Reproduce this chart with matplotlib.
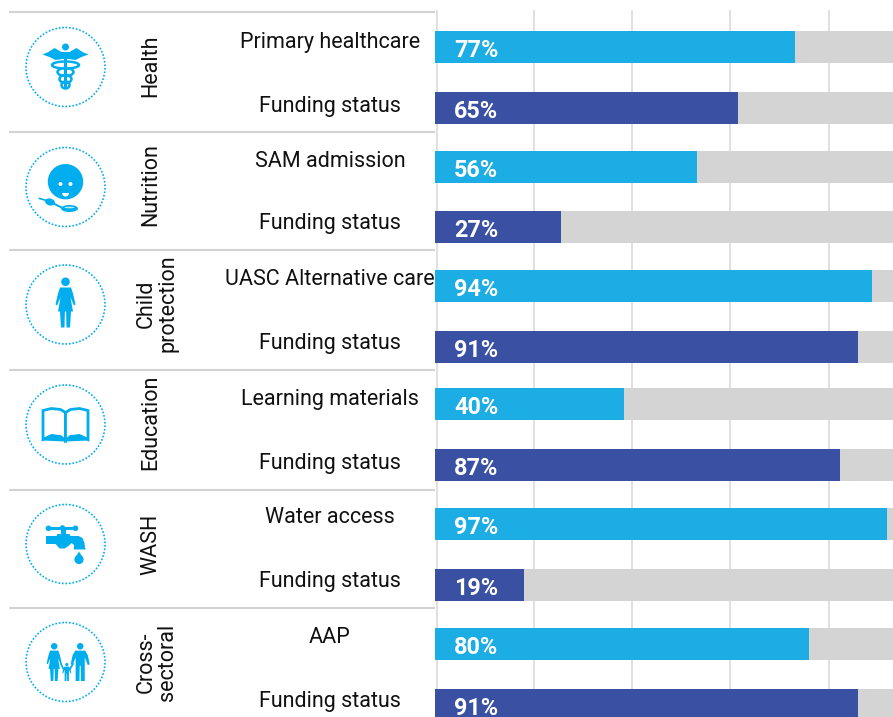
#!/usr/bin/env python3
import matplotlib
matplotlib.use("Agg")
import matplotlib.pyplot as plt
from matplotlib.patches import Circle, Ellipse, Polygon, Rectangle, Wedge

# ==============================================================
# Data
# ==============================================================
sectors = ["Health", "Nutrition", "Child\nprotection", "Education", "WASH", "Cross-\nsectoral"]
indicators = ["Primary healthcare", "SAM admission", "UASC Alternative care",
              "Learning materials", "Water access", "AAP"]
indicator_labels = [77, 56, 94, 40, 97, 80]
funding_labels = [65, 27, 91, 87, 19, 91]
# bar lengths as measured, the printed labels are rounded
indicator_values = [77.2, 56.2, 93.7, 40.5, 96.9, 80.2]
funding_values = [65.0, 27.0, 90.7, 86.8, 19.1, 90.7]
funding_label = "Funding status"

# ==============================================================
# Layout (pixels of the 893x717 picture)
# ==============================================================
W, H = 893, 717
PX_PER_PCT = 4.665
BAR_X0 = 435
BAR_H = 32
ind_bar_top = [31, 151, 270, 388, 508, 628]
fund_bar_top = [92, 211, 331, 449, 569, 689]
ind_text_y = [42.5, 161.5, 279.5, 399.5, 517.5, 637.5]
fund_text_y = [106.5, 223.5, 343.5, 463.5, 581.5, 701.5]
rule_y = [12, 132, 250, 370, 490, 608]
icon_y = [67, 187, 304.5, 424.5, 544, 662]
sector_y = [66, 185, 303.5, 422.5, 544.5, 662]
grid_x = [436.5, 534, 632, 730, 829]

CYAN = "#1CADE4"
ICON = "#00AEEF"
NAVY = "#3A50A2"
GRAY = "#D4D4D4"
GRID = "#DDDDDD"
RULE = "#D2D2D2"
TXT = "#111111"
FS = 15.5

plt.rcParams['font.family'] = ['Roboto', 'DejaVu Sans']

fig = plt.figure(figsize=(W / 100, H / 100), dpi=100)

# full figure overlay in pixel coordinates, y going down
bg = fig.add_axes([0, 0, 1, 1])
bg.set_xlim(0, W)
bg.set_ylim(H, 0)
bg.axis('off')


# ==============================================================
# Icons
# ==============================================================
def add_poly(ax, cx, cy, pts, color=ICON, z=5):
    ax.add_patch(Polygon([(cx + a, cy + b) for a, b in pts], closed=True, fc=color, ec='none', zorder=z))


def add_circ(ax, x, y, r, color=ICON, z=5):
    ax.add_patch(Circle((x, y), r, fc=color, ec='none', zorder=z))


def person(ax, cx, top, h, dress=False):
    s = h / 50.0
    add_circ(ax, cx, top + 4.3 * s, 4.3 * s)
    if dress:
        add_poly(ax, cx, top, [(-5.5*s, 10*s), (5.5*s, 10*s), (7.5*s, 16*s), (10*s, 27*s), (8.5*s, 28*s),
                               (5*s, 20*s), (7.5*s, 34*s), (5.5*s, 34*s), (4.5*s, 50*s), (1*s, 50*s),
                               (0.6*s, 34*s), (-0.6*s, 34*s), (-1*s, 50*s), (-4.5*s, 50*s), (-5.5*s, 34*s),
                               (-7.5*s, 34*s), (-5*s, 20*s), (-8.5*s, 28*s), (-10*s, 27*s), (-7.5*s, 16*s)])
    else:
        add_poly(ax, cx, top, [(-6.5*s, 10*s), (6.5*s, 10*s), (10*s, 16*s), (12.5*s, 28*s), (10*s, 29*s),
                               (6*s, 19*s), (6*s, 50*s), (1*s, 50*s), (0.6*s, 30*s), (-0.6*s, 30*s),
                               (-1*s, 50*s), (-6*s, 50*s), (-6*s, 19*s), (-10*s, 29*s),
                               (-12.5*s, 28*s), (-10*s, 16*s)])


def icon_health(ax, cx, cy):
    add_circ(ax, cx, cy - 20, 3.5)
    add_poly(ax, cx, cy, [(-23, -12.5), (-17, -15), (-11, -19), (-4, -15), (4, -15), (11, -19), (17, -15),
                          (23, -12.5), (16, -10), (10, -7), (3, -8), (-3, -8), (-10, -7), (-16, -10)])
    ax.add_patch(Rectangle((cx - 1.3, cy - 15), 2.6, 37, fc=ICON, ec='none', zorder=5))
    for yy, w, h in [(-2, 27, 7), (5, 16, 8), (12, 12, 8), (18, 8, 7)]:
        ax.add_patch(Ellipse((cx, cy + yy), w, h, fc='none', ec=ICON, lw=1.8, zorder=5))


def icon_nutrition(ax, cx, cy):
    add_circ(ax, cx, cy - 5.3, 17.7)
    add_circ(ax, cx - 5, cy - 3, 2, 'white', 6)
    add_circ(ax, cx + 5, cy - 3, 2, 'white', 6)
    ax.add_patch(Wedge((cx, cy + 6), 3.5, 0, 180, fc='white', ec='none', zorder=6))
    ax.add_patch(Ellipse((cx - 15.5, cy + 15), 10, 7, angle=15, fc=ICON, ec='none', zorder=5))
    ax.plot([cx - 26, cx - 19], [cy + 11.5, cy + 13.5], color=ICON, lw=1.2, zorder=5)
    ax.plot([cx - 11, cx - 3], [cy + 17, cy + 21], color=ICON, lw=1.4, zorder=5)
    ax.add_patch(Ellipse((cx + 4, cy + 21.5), 17, 7, fc=ICON, ec='none', zorder=5))
    ax.add_patch(Ellipse((cx + 4, cy + 20.5), 10, 1.6, fc='#BFEBFB', ec='none', zorder=6))


def icon_child(ax, cx, cy):
    person(ax, cx, cy - 27, 50, dress=True)


def icon_book(ax, cx, cy):
    for sgn in (-1, 1):
        pts = [(0, -12), (sgn * 5, -15), (sgn * 14, -16), (sgn * 22.5, -14), (sgn * 22.5, 15),
               (sgn * 14, 11), (sgn * 5, 12), (0, 16)]
        ax.add_patch(Polygon([(cx + a, cy + b) for a, b in pts], closed=True, fc='white', ec=ICON, lw=2, zorder=5))
    add_poly(ax, cx, cy, [(-23.3, 14), (-14, 10), (-5, 11), (0, 15), (5, 11), (14, 10), (23.3, 14), (23.3, 16),
                          (0, 17), (-23.3, 16)])


def icon_tap(ax, cx, cy):
    ax.add_patch(Rectangle((cx - 17, cy - 17), 27, 2.6, fc=ICON, ec='none', zorder=5))
    add_circ(ax, cx - 17, cy - 15.7, 2.8)
    add_circ(ax, cx + 10, cy - 15.7, 2.8)
    add_circ(ax, cx - 3, cy - 16, 2.8)
    ax.add_patch(Rectangle((cx - 5, cy - 15), 5, 6, fc=ICON, ec='none', zorder=5))
    add_poly(ax, cx, cy, [(-19.5, -8), (-9, -8), (-8, -10), (4, -10), (5, -8), (13, -8), (17, -6), (19, -1),
                          (19.5, 4), (20, 4), (20, 5.5), (8.5, 5.5), (8.5, 1), (6, -1), (3, 2), (-1, 4.5),
                          (-6, 4.5), (-9, 1), (-10, 0), (-19.5, 0)])
    add_poly(ax, cx, cy, [(13.5, 7.5), (17.5, 14), (9.5, 14)])
    add_circ(ax, cx + 13.5, cy + 15.5, 4.6)


def icon_family(ax, cx, cy):
    person(ax, cx - 11.3, cy - 19, 38, dress=True)
    person(ax, cx + 14.7, cy - 19, 38)
    person(ax, cx + 1.3, cy + 1, 18)
    ax.plot([cx - 4.5, cx - 2], [cy + 2, cy + 7], color=ICON, lw=1.2, zorder=5)
    ax.plot([cx + 4.5, cx + 7.5], [cy + 7, cy + 2], color=ICON, lw=1.2, zorder=5)


icon_funcs = [icon_health, icon_nutrition, icon_child, icon_book, icon_tap, icon_family]

# ==============================================================
# Left hand columns
# ==============================================================
for y in rule_y:
    bg.plot([9, 435], [y, y], color=RULE, lw=1.5, solid_capstyle='butt', zorder=1)

for i in range(6):
    bg.add_patch(Circle((65.5, icon_y[i]), 39.5, fc='none', ec=ICON, lw=1.2,
                        ls=(0, (1, 1.1)), zorder=4))
    icon_funcs[i](bg, 65.5, icon_y[i])
    bg.text(151 if "\n" not in sectors[i] else 157, sector_y[i], sectors[i], rotation=90,
            ha='center', va='center', fontsize=FS, color=TXT, linespacing=1.0, multialignment='center')
    bg.text(330, ind_text_y[i], indicators[i], ha='center', va='center', fontsize=FS, color=TXT)
    bg.text(330, fund_text_y[i], funding_label, ha='center', va='center', fontsize=FS, color=TXT)

# ==============================================================
# Bars
# ==============================================================
ax = fig.add_axes([BAR_X0 / W, 0, 1 - BAR_X0 / W, 1])
ax.patch.set_alpha(0)
ax.set_xlim(0, (W - BAR_X0) / PX_PER_PCT)
ax.set_ylim(H, 0)
ax.axis('off')

for gx in grid_x:
    ax.plot([(gx - BAR_X0) / PX_PER_PCT] * 2, [11, H], color=GRID, lw=1.3, zorder=1)

for i in range(6):
    for top, val, lab, col in [(ind_bar_top[i], indicator_values[i], indicator_labels[i], CYAN),
                               (fund_bar_top[i], funding_values[i], funding_labels[i], NAVY)]:
        ax.barh(top + BAR_H / 2, 110, height=BAR_H, color=GRAY, zorder=2)
        ax.barh(top + BAR_H / 2, val, height=BAR_H, color=col, zorder=3)
        ax.text(19 / PX_PER_PCT, top + 26, f"{lab}%", ha='left', va='baseline',
                fontsize=16.8, fontweight='bold', color='white', zorder=4)

fig.savefig("out.png", dpi=100)
